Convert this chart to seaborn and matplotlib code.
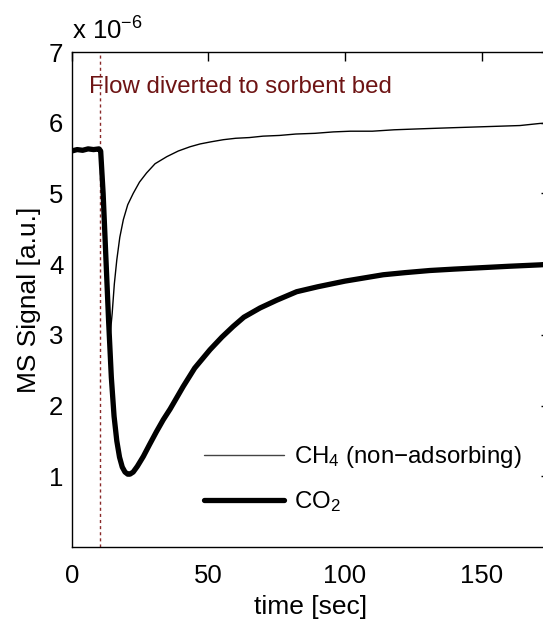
import numpy as np
import pandas as pd
import matplotlib
matplotlib.use("Agg")
import matplotlib.pyplot as plt
import seaborn as sns

# ---- data (signal in units of 1e-6) ----
co2_t = [0, 2, 4, 6, 8, 10, 10.6, 11.5, 12.5, 13.5, 14.5, 15.5, 16.5, 17.5, 18.5, 19.5,
         20.5, 21.3, 22.5, 24, 26.2, 28.5, 31, 33.5, 36, 40.8, 45, 50.6, 55, 59.1,
         63, 68.9, 75, 82.3, 90, 100, 114, 122, 131, 140, 150, 160, 171.4, 175]
co2_v = [5.60, 5.62, 5.61, 5.63, 5.62, 5.63, 5.60, 5.00, 4.10, 3.20, 2.40, 1.85, 1.50,
         1.27, 1.13, 1.06, 1.03, 1.03, 1.06, 1.14, 1.28, 1.45, 1.63, 1.80, 1.95, 2.27,
         2.53, 2.79, 2.97, 3.12, 3.25, 3.38, 3.49, 3.61, 3.68, 3.76, 3.85, 3.88, 3.91,
         3.93, 3.95, 3.97, 3.99, 4.00]

ch4_t = [0, 2, 4, 6, 8, 10, 10.6, 11.5, 12.5, 13.3, 14.0, 14.8, 15.6, 16.5, 17.6, 18.9,
         20.5, 22.5, 24.8, 27.4, 30.5, 34.8, 39, 43.3, 47, 51, 55.5, 60, 65, 70, 76,
         82, 89, 95.7, 102, 110, 118, 125, 132.3, 140, 148, 156, 164, 171.4, 175]
ch4_v = [5.60, 5.62, 5.61, 5.63, 5.62, 5.63, 5.60, 4.90, 3.90, 3.25, 2.97, 3.30, 3.72,
         4.06, 4.38, 4.63, 4.84, 5.00, 5.16, 5.29, 5.42, 5.52, 5.60, 5.66, 5.70, 5.73,
         5.76, 5.78, 5.79, 5.81, 5.82, 5.84, 5.85, 5.87, 5.88, 5.88, 5.90, 5.91, 5.92,
         5.93, 5.94, 5.95, 5.96, 5.99, 5.99]

divert_t = 10.5
x_ticks = [0, 50, 100, 150]
y_ticks = [1, 2, 3, 4, 5, 6, 7]

sns.set_theme(style="white")
plt.rcParams["font.family"] = ["Liberation Sans", "DejaVu Sans"]
plt.rcParams["mathtext.fontset"] = "custom"
plt.rcParams["mathtext.rm"] = "Liberation Sans"
plt.rcParams["mathtext.it"] = "Liberation Sans:italic"
plt.rcParams["text.color"] = "black"
plt.rcParams["axes.labelcolor"] = "black"

W, H = 543, 619
fig = plt.figure(figsize=(W / 100, H / 100), dpi=100)
x0, x1 = 71.7, 550.0
y0, y1 = 52.0, 547.0
ax = fig.add_axes([x0 / W, 1 - y1 / H, (x1 - x0) / W, (y1 - y0) / H])

df_ch4 = pd.DataFrame({"t": ch4_t, "v": ch4_v})
df_co2 = pd.DataFrame({"t": co2_t, "v": co2_v})

ax.axvline(divert_t, color="#8a2a2a", linestyle=(0, (2.2, 2.2)), linewidth=1.0, zorder=1)
sns.lineplot(data=df_co2, x="t", y="v", ax=ax, color="black", linewidth=3.8,
             estimator=None, sort=False, label="CO$_2$", zorder=3)
sns.lineplot(data=df_ch4, x="t", y="v", ax=ax, color="black", linewidth=1.0,
             estimator=None, sort=False, label="CH$_4$ (non\u2212adsorbing)", zorder=4)

ax.set_xlim(0, 175)
ax.set_ylim(0, 7)
ax.set_xticks(x_ticks)
ax.set_yticks(y_ticks)
ax.tick_params(direction="in", length=6.5, width=1.0, top=True, right=True,
               labelsize=18.5, colors="black")
ax.tick_params(axis="x", pad=12)
ax.tick_params(axis="y", pad=6)
for s in ax.spines.values():
    s.set_visible(True)
    s.set_color("black")
    s.set_linewidth(1.0)

ax.set_xlabel("time [sec]", fontsize=19, labelpad=5, color="black")
ax.set_ylabel("MS Signal [a.u.]", fontsize=19, labelpad=6, color="black")

ax.text(0.0, 1.015, r"x 10$^{-6}$", transform=ax.transAxes, fontsize=18.5,
        ha="left", va="bottom")
ax.text(6.3, 6.5, "Flow diverted to sorbent bed", color="#6e1414", fontsize=17.3,
        ha="left", va="center")

handles, labels = ax.get_legend_handles_labels()
order = [1, 0]
leg = ax.legend([handles[i] for i in order], [labels[i] for i in order],
                loc="upper left", bbox_to_anchor=(0.2766, 0.208), frameon=False,
                fontsize=17.3, handlelength=3.35, handletextpad=0.38, borderpad=0,
                borderaxespad=0, labelspacing=0.79)
leg.get_lines()[0].set_linewidth(1.0)
leg.get_lines()[0].set_color("#444444")

fig.savefig("out.png", dpi=100)
